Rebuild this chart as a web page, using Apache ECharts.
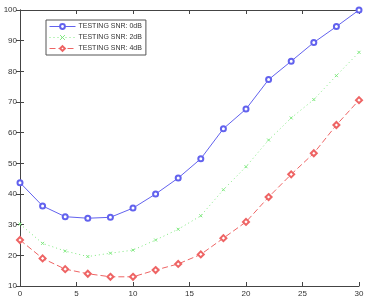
<!DOCTYPE html>
<html>
<head>
<meta charset="utf-8">
<script src="https://cdn.jsdelivr.net/npm/echarts@6/dist/echarts.min.js"></script>
<style>
  html, body { margin: 0; padding: 0; background: #fff; }
  #chart { width: 369px; height: 302px; }
</style>
</head>
<body>
<div id="chart"></div>
<script>
// training steps (x values)
const xs = [0, 2, 4, 6, 8, 10, 12, 14, 16, 18, 20, 22, 24, 26, 28, 30];

// accuracy per testing SNR
const snr0 = [43.7, 36.1, 32.6, 32.1, 32.4, 35.4, 40.0, 45.2, 51.5, 61.3, 67.7, 77.3, 83.3, 89.4, 94.6, 100];
const snr2 = [30.2, 23.9, 21.4, 19.6, 20.7, 21.7, 25.0, 28.5, 32.9, 41.4, 48.9, 57.6, 64.8, 70.8, 78.6, 86.2];
const snr4 = [25.0, 19.0, 15.5, 14.0, 13.0, 13.0, 15.2, 17.2, 20.3, 25.6, 30.9, 39.0, 46.4, 53.3, 62.5, 70.6];

const names = ["TESTING SNR: 0dB", "TESTING SNR: 2dB", "TESTING SNR: 4dB"];

const pairs = (ys) => xs.map((x, i) => [x, ys[i]]);

const blue = "#6262ee";
const green = "#7ee87e";
const red = "#ee6464";

const chart = echarts.init(document.getElementById("chart"));

const axisCommon = {
  axisLine: { lineStyle: { color: "#444", width: 1 } },
  axisTick: { inside: true, length: 4, lineStyle: { color: "#444" } },
  splitLine: { show: false },
  axisLabel: { color: "#333", fontSize: 8, fontFamily: "Liberation Sans" },
};

chart.setOption({
  animation: false,
  grid: { left: 20, right: 10, top: 10, bottom: 16 },
  legend: {
    orient: "vertical",
    left: 46,
    top: 20,
    padding: [3, 4, 3, 3],
    itemGap: 4,
    itemWidth: 26,
    itemHeight: 6,
    borderColor: "#555",
    borderWidth: 1,
    backgroundColor: "#fff",
    lineStyle: { width: 1 },
    itemStyle: { borderWidth: 1 },
    textStyle: { fontSize: 7, color: "#333", fontFamily: "Liberation Sans", padding: [0, 0, 0, -2] },
    data: names,
  },
  xAxis: [
    { type: "value", min: 0, max: 30, interval: 5, position: "bottom", ...axisCommon,
      axisLabel: { ...axisCommon.axisLabel, margin: 4 } },
    { type: "value", min: 0, max: 30, interval: 5, position: "top", ...axisCommon,
      axisLabel: { show: false } },
  ],
  yAxis: [
    { type: "value", min: 10, max: 100, interval: 10, position: "left", ...axisCommon,
      axisLabel: { ...axisCommon.axisLabel, margin: 3 } },
    { type: "value", min: 10, max: 100, interval: 10, position: "right", ...axisCommon,
      axisLabel: { show: false } },
  ],
  series: [
    {
      name: names[0],
      type: "line",
      data: pairs(snr0),
      symbol: "emptyCircle",
      symbolSize: 5,
      lineStyle: { color: blue, width: 1, type: "solid" },
      itemStyle: { color: blue, borderColor: blue, borderWidth: 1 },
    },
    {
      name: names[1],
      type: "line",
      data: pairs(snr2),
      symbol: "path://M0,0L10,10M10,0L0,10",
      symbolSize: 3,
      lineStyle: { color: green, width: 1, type: [1, 3] },
      itemStyle: { color: green, borderColor: green, borderWidth: 1 },
    },
    {
      name: names[2],
      type: "line",
      data: pairs(snr4),
      symbol: "emptyDiamond",
      symbolSize: 6,
      lineStyle: { color: red, width: 1, type: [6, 3] },
      itemStyle: { color: red, borderColor: red, borderWidth: 1 },
    },
  ],
});
</script>
</body>
</html>
